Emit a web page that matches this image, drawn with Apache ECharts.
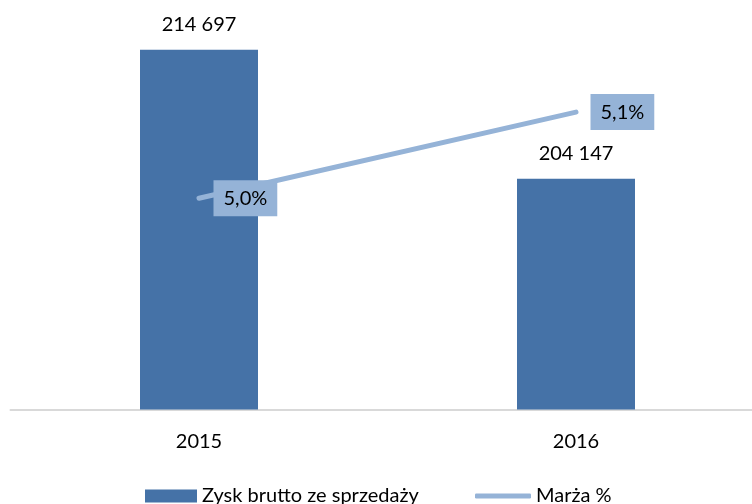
<!DOCTYPE html>
<html>
<head>
<meta charset="utf-8">
<script src="https://cdn.jsdelivr.net/npm/echarts@6/dist/echarts.min.js"></script>
<style>
  html, body { margin: 0; padding: 0; background: #fff; }
  #chart { width: 752px; height: 504px; }
</style>
</head>
<body>
<div id="chart"></div>
<script>
const years = ['2015', '2016']
const grossProfit = [214697, 204147]
const margin = [5.0, 5.1]

const FONT = 'Lato'
const BAR_COLOR = '#4572A7'
const LINE_COLOR = '#95B3D7'

const fmtThousands = (v) => String(v).replace(/\B(?=(\d{3})+(?!\d))/g, ' ')
const fmtPct = (v) => v.toFixed(1).replace('.', ',') + '%'

const chart = echarts.init(document.getElementById('chart'))

chart.setOption({
  animation: false,
  textStyle: { fontFamily: FONT },
  grid: {
    left: 10.5,
    width: 754,
    top: 46,
    bottom: 94.5,
    outerBoundsMode: 'none',
    containLabel: false
  },
  legend: [
    {
      data: ['Zysk brutto ze sprzedaży'],
      left: 140,
      top: 481,
      icon: 'rect',
      itemWidth: 52,
      itemHeight: 13,
      textStyle: { fontFamily: FONT, fontSize: 20, color: '#000' }
    },
    {
      data: ['Marża %'],
      left: 470,
      top: 481,
      icon: 'roundRect',
      itemWidth: 56,
      itemHeight: 5,
      textStyle: { fontFamily: FONT, fontSize: 20, color: '#000' }
    }
  ],
  xAxis: {
    type: 'category',
    data: years,
    axisLine: { lineStyle: { color: '#d9d9d9', width: 2 } },
    axisTick: { show: false },
    axisLabel: {
      color: '#000',
      fontFamily: FONT,
      fontSize: 20,
      margin: 22
    }
  },
  yAxis: [
    {
      type: 'value',
      min: 185300,
      max: 215000,
      show: false,
      splitLine: { show: false }
    },
    {
      type: 'value',
      min: 4.7546,
      max: 5.1768,
      show: false,
      splitLine: { show: false }
    }
  ],
  series: [
    {
      name: 'Zysk brutto ze sprzedaży',
      type: 'bar',
      data: grossProfit,
      barWidth: 118,
      itemStyle: { color: BAR_COLOR },
      label: {
        show: true,
        position: 'top',
        distance: 15,
        color: '#000',
        fontFamily: FONT,
        fontSize: 20,
        formatter: (p) => fmtThousands(p.value)
      }
    },
    {
      name: 'Marża %',
      type: 'line',
      yAxisIndex: 1,
      data: margin,
      z: 5,
      symbol: 'circle',
      symbolSize: 1,
      itemStyle: { color: LINE_COLOR },
      lineStyle: { color: LINE_COLOR, width: 5, cap: 'round' },
      label: {
        show: true,
        position: 'right',
        distance: 14,
        color: '#000',
        fontFamily: FONT,
        fontSize: 20,
        backgroundColor: LINE_COLOR,
        padding: [8, 10, 8, 10],
        formatter: (p) => fmtPct(p.value)
      }
    }
  ]
})
</script>
</body>
</html>
